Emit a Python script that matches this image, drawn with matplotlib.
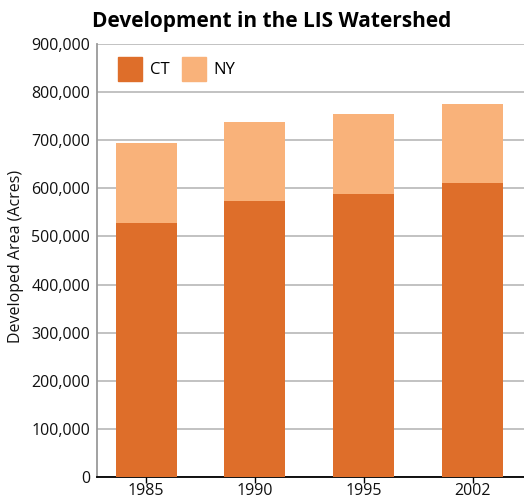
import matplotlib
matplotlib.use("Agg")
import matplotlib.pyplot as plt
from matplotlib.patches import Patch
from matplotlib.ticker import FuncFormatter
import numpy as np

years = ["1985", "1990", "1995", "2002"]
ct = [528000, 574000, 588000, 611000]
ny = [166000, 163000, 166000, 165000]
yticks = [0, 100000, 200000, 300000, 400000, 500000, 600000, 700000, 800000, 900000]

ct_color = "#DE6E2A"
ny_color = "#F9B27A"

plt.rcParams['font.family'] = ['Open Sans', 'DejaVu Sans']

fig = plt.figure(figsize=(5.24, 5.0), dpi=100)
ax = fig.add_axes([97/524, 1-477/500, 1-97/524, (477-44)/500])

x = np.arange(len(years))
w = 0.56
ax.bar(x, ct, w, color=ct_color, zorder=3, label="CT")
ax.bar(x, ny, w, bottom=ct, color=ny_color, zorder=3, label="NY")

ax.set_xlim(-0.45, 3.47)
ax.set_ylim(0, 900000)
ax.set_yticks(yticks)
ax.yaxis.set_major_formatter(FuncFormatter(lambda v, p: f"{int(v):,}"))
ax.set_xticks(x)
ax.set_xticklabels(years)
ax.tick_params(axis='y', length=0, labelsize=11.5, pad=5, labelcolor="#111111")
ax.tick_params(axis='x', length=4, width=1, labelsize=11.5, pad=0.5, labelcolor="#111111")
ax.grid(axis='y', color="#b8b8b8", linewidth=1.2, zorder=0)
ax.set_axisbelow(True)
for s in ["top", "right"]:
    ax.spines[s].set_visible(False)
ax.spines["left"].set_color("#9a9a9a")
ax.spines["left"].set_linewidth(1.3)
ax.spines["bottom"].set_color("black")
ax.spines["bottom"].set_linewidth(1.3)

fig.text(16/524, 1-256/500, "Developed Area (Acres)", rotation=90, ha="center", va="center",
         fontsize=11.5, color="#111111")

handles = [Patch(color=ct_color, label="CT"), Patch(color=ny_color, label="NY")]
ax.legend(handles=handles, loc="upper left", ncol=2, frameon=False,
          fontsize=12, handlelength=1.45, handleheight=1.8, handletextpad=0.45,
          columnspacing=0.75, bbox_to_anchor=(0.022, 0.997), borderaxespad=0.3)

fig.text(272/524, 1-22/500, "Development in the LIS Watershed", ha="center", va="center",
         fontsize=15, fontweight="bold")

fig.savefig("out.png", dpi=100)
